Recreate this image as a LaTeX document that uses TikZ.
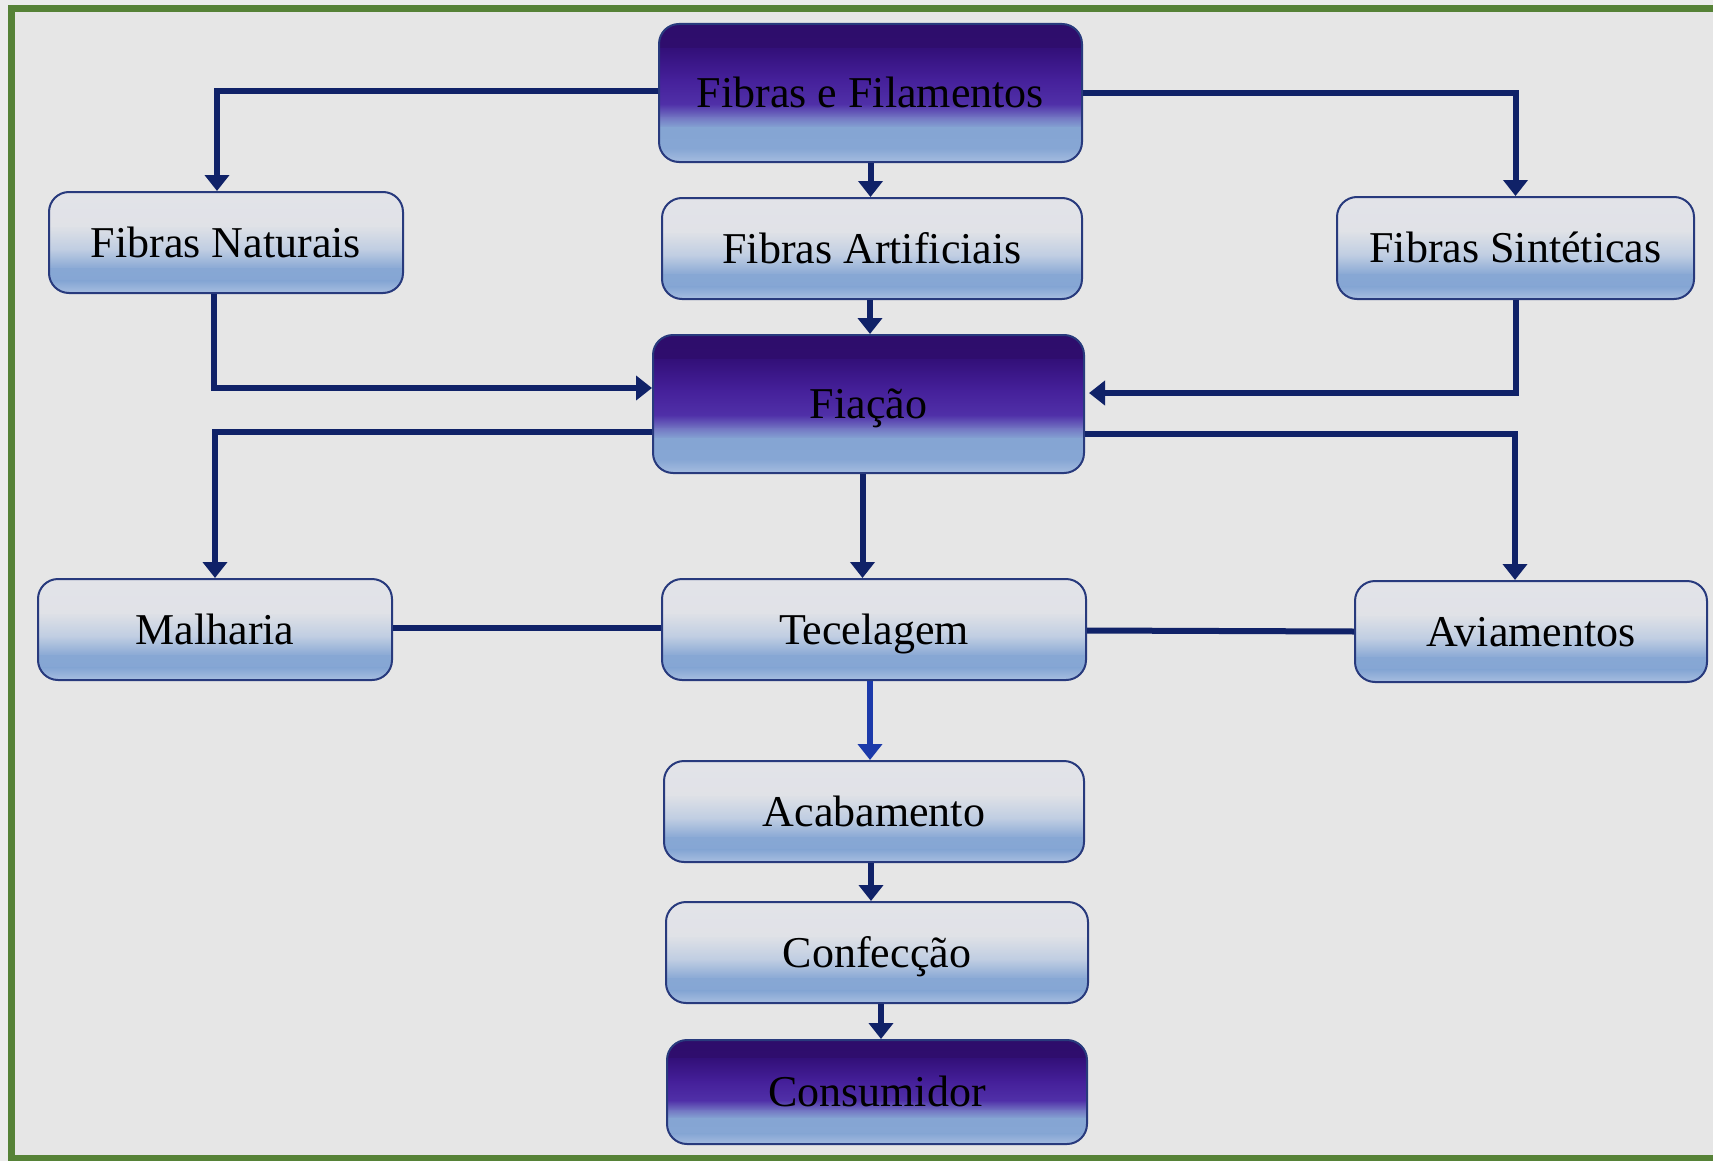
\documentclass[tikz,border=0pt]{standalone}
\usepackage{fontspec}
\setmainfont{Liberation Serif}
\usetikzlibrary{arrows.meta,calc}
\definecolor{conncol}{RGB}{16,34,104}
\definecolor{brightconn}{RGB}{28,58,170}
\definecolor{boxborder}{RGB}{40,58,125}
\definecolor{framegreen}{RGB}{86,130,55}
\definecolor{bginner}{HTML}{E6E6E6}
\definecolor{bgouter}{HTML}{ECECEC}
\definecolor{lA}{HTML}{E2E3E8}
\definecolor{lB}{HTML}{DDE0E6}
\definecolor{lC}{HTML}{BFCDE2}
\definecolor{lD}{HTML}{87A7D4}
\definecolor{lE}{HTML}{85A6D4}
\definecolor{lF}{HTML}{A9BFE0}
\definecolor{dA}{HTML}{2E0D6B}
\definecolor{dB}{HTML}{33107A}
\definecolor{dC}{HTML}{45209A}
\definecolor{dD}{HTML}{5030A8}
\definecolor{dE}{HTML}{7479C4}
\definecolor{dF}{HTML}{85A5D3}
\definecolor{dG}{HTML}{86A6D4}
\definecolor{dH}{HTML}{A6BDE0}
\newcommand\gradseg[4]{%
  \shade[sharp corners, top color=#3, bottom color=#4]
    ($(path picture bounding box.north west)!#1!(path picture bounding box.south west)+(-2,0)$)
    rectangle
    ($(path picture bounding box.north east)!#2!(path picture bounding box.south east)+(2,0.6)$);}
\begin{document}
\begin{tikzpicture}[x=0.5pt,y=-0.5pt,
  basebox/.style={rounded corners=10pt, draw=boxborder, line width=1pt, inner sep=0pt,
    font=\fontsize{22}{24}\selectfont, text=black, text height=15pt, text depth=0.3pt},
  lightbox/.style={basebox, path picture={
    \gradseg{0}{0.35}{lA}{lB}
    \gradseg{0.35}{0.57}{lB}{lC}
    \gradseg{0.57}{0.76}{lC}{lD}
    \gradseg{0.76}{0.88}{lD}{lE}
    \gradseg{0.88}{1}{lE}{lF}
  }},
  darkbox/.style={basebox, path picture={
    \gradseg{0}{0.18}{dA}{dB}
    \gradseg{0.18}{0.40}{dB}{dC}
    \gradseg{0.40}{0.58}{dC}{dD}
    \gradseg{0.58}{0.68}{dD}{dE}
    \gradseg{0.68}{0.75}{dE}{dF}
    \gradseg{0.75}{0.90}{dF}{dG}
    \gradseg{0.90}{1}{dG}{dH}
  }},
  conn/.style={draw=conncol, line width=3pt},
  arr/.style={conn, -{Triangle[width=12pt,length=8pt]}}
]
\useasboundingbox (0,0) rectangle (1713,1161);
\clip (0,0) rectangle (1713,1161);
\fill[bgouter] (0,0) rectangle (1713,1161);
\draw[framegreen, fill=bginner, line width=3.5pt] (11,9) rectangle (1740,1158);

% nodes
\node[darkbox, minimum width=211.5pt, minimum height=69pt] (fef) at (870.5,93) {Fibras e Filamentos};
\node[lightbox, minimum width=177pt, minimum height=50.5pt] (fn) at (226,242.5) {Fibras Naturais};
\node[lightbox, minimum width=210pt, minimum height=50.5pt] (fa) at (872,248.5) {Fibras Artificiais};
\node[lightbox, minimum width=178.5pt, minimum height=51pt] (fs) at (1515.5,248) {Fibras Sintéticas};
\node[darkbox, minimum width=215.5pt, minimum height=69pt] (fia) at (868.5,404) {Fiação};
\node[lightbox, minimum width=177pt, minimum height=50.5pt] (mal) at (215,629.5) {Malharia};
\node[lightbox, minimum width=212pt, minimum height=50.5pt] (tec) at (874,629.5) {Tecelagem};
\node[lightbox, minimum width=176pt, minimum height=50.5pt] (avi) at (1531,631.5) {Aviamentos};
\node[lightbox, minimum width=210pt, minimum height=50.5pt] (aca) at (874,811.5) {Acabamento};
\node[lightbox, minimum width=211pt, minimum height=50.5pt] (con) at (877,952.5) {Confecção};
\node[darkbox, minimum width=210pt, minimum height=52pt] (cons) at (877,1092) {Consumidor};

% connectors
\draw[arr] ([yshift=1pt]fef.west) -| ([xshift=-4.5pt]fn.north);
\draw[arr] (fef.east) -| (fs.north);
\draw[arr] (fef.south) -- (fef.south |- fa.north);
\draw[arr] ([xshift=-1pt]fa.south) -- ([xshift=-1pt]fa.south |- fia.north);
\draw[arr] ([xshift=-6pt]fn.south) |- ([yshift=8pt]fia.west);
\draw[arr] (fs.south) |- ([yshift=5.5pt,xshift=2pt]fia.east);
\draw[arr] ([yshift=-14pt]fia.west) -| (mal.north);
\draw[arr] ([yshift=-15pt]fia.east) -| ([xshift=-8pt]avi.north);
\draw[arr] ([xshift=-3pt]fia.south) -- ([xshift=-3pt]fia.south |- tec.north);
\draw[conn] ([yshift=1pt]mal.east) -- ([yshift=1pt]tec.west);
\draw[conn] ([yshift=-0.5pt]tec.east) -- (avi.west);
\draw[arr, draw=brightconn] ([xshift=-2pt]tec.south) -- ([xshift=-2pt]tec.south |- aca.north);
\draw[arr] ([xshift=-1.5pt]aca.south) -- ([xshift=-1.5pt]aca.south |- con.north);
\draw[arr] ([xshift=2pt]con.south) -- ([xshift=2pt]con.south |- cons.north);
\end{tikzpicture}
\end{document}
